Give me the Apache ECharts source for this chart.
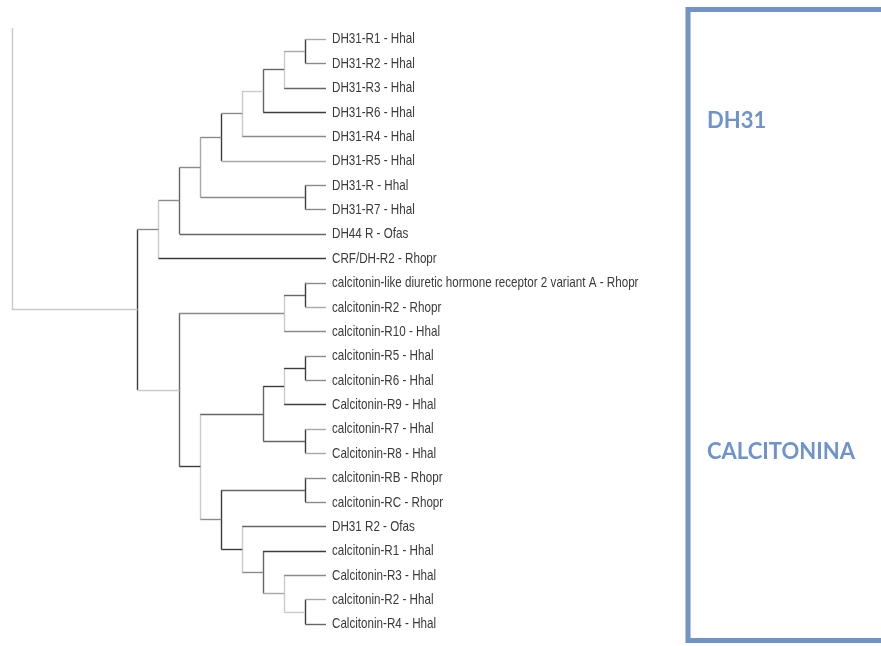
<!DOCTYPE html>
<html>
<head>
<meta charset="utf-8">
<script src="https://cdn.jsdelivr.net/npm/echarts@6/dist/echarts.min.js"></script>
<style>
  html, body { margin: 0; padding: 0; background: #ffffff; }
  #chart { width: 881px; height: 646px; }
</style>
</head>
<body>
<div id="chart"></div>
<script>
// ---------------- DATA ----------------
// Leaf labels, top to bottom
const leafNames = [
  'DH31-R1 - Hhal',
  'DH31-R2 - Hhal',
  'DH31-R3 - Hhal',
  'DH31-R6 - Hhal',
  'DH31-R4 - Hhal',
  'DH31-R5 - Hhal',
  'DH31-R - Hhal',
  'DH31-R7 - Hhal',
  'DH44 R - Ofas',
  'CRF/DH-R2 - Rhopr',
  'calcitonin-like diuretic hormone receptor 2 variant A - Rhopr',
  'calcitonin-R2 - Rhopr',
  'calcitonin-R10 - Hhal',
  'calcitonin-R5 - Hhal',
  'calcitonin-R6 - Hhal',
  'Calcitonin-R9 - Hhal',
  'calcitonin-R7 - Hhal',
  'Calcitonin-R8 - Hhal',
  'calcitonin-RB - Rhopr',
  'calcitonin-RC - Rhopr',
  'DH31 R2 - Ofas',
  'calcitonin-R1 - Hhal',
  'Calcitonin-R3 - Hhal',
  'calcitonin-R2 - Hhal',
  'Calcitonin-R4 - Hhal'
];

// Tree topology: [nodeId, parentId, branchLength]; leaves are "L<index>"
const treeEdges = [
  ['A', 'root', 6],
  ['B', 'A', 1], ['K', 'A', 2],
  ['C', 'B', 1], ['L9', 'B', 8],
  ['D', 'C', 1], ['L8', 'C', 7],
  ['F', 'D', 1], ['E', 'D', 5],
  ['G', 'F', 1], ['L5', 'F', 5],
  ['H', 'G', 1], ['L4', 'G', 4],
  ['I', 'H', 1], ['L3', 'H', 3],
  ['J', 'I', 1], ['L2', 'I', 2],
  ['L0', 'J', 1], ['L1', 'J', 1],
  ['L6', 'E', 1], ['L7', 'E', 1],
  ['Lc', 'K', 5], ['N', 'K', 1],
  ['M', 'Lc', 1], ['L12', 'Lc', 2],
  ['L10', 'M', 1], ['L11', 'M', 1],
  ['O', 'N', 3], ['S', 'N', 1],
  ['P', 'O', 1], ['R', 'O', 2],
  ['Q', 'P', 1], ['L15', 'P', 2],
  ['L13', 'Q', 1], ['L14', 'Q', 1],
  ['L16', 'R', 1], ['L17', 'R', 1],
  ['T', 'S', 4], ['U', 'S', 1],
  ['L18', 'T', 1], ['L19', 'T', 1],
  ['L20', 'U', 4], ['V', 'U', 1],
  ['L21', 'V', 3], ['W', 'V', 1],
  ['L22', 'W', 2], ['X', 'W', 1],
  ['L23', 'X', 1], ['L24', 'X', 1]
];

// Box group labels
const groupLabels = ['DH31', 'CALCITONINA'];

// ---------------- STYLE (branch shading) ----------------
const shade = { 1: '#3c3c3c', 2: '#666666', 3: '#8a8a8a', 4: '#a8a8a8', 5: '#cacaca' };
// horizontal shade per node (branch leading to node)
const hShade = {
  A: 5, B: 3, K: 5, C: 3, L9: 1, D: 3, L8: 2, F: 3, E: 3, G: 3, L5: 4,
  H: 5, L4: 3, I: 2, L3: 1, J: 4, L2: 2, L0: 4, L1: 3, L6: 3, L7: 3,
  Lc: 3, N: 1, M: 2, L12: 3, L10: 3, L11: 4, O: 2, S: 3, P: 1, R: 2,
  Q: 1, L15: 1, L13: 3, L14: 3, L16: 4, L17: 4, T: 2, U: 1, L18: 3, L19: 3,
  L20: 2, V: 3, L21: 1, W: 4, L22: 3, X: 5, L23: 4, L24: 2
};
// vertical shade per internal node
const vShade = {
  root: 5, A: 1, B: 5, C: 2, D: 4, E: 1, F: 1, G: 5, H: 2, I: 5, J: 1,
  K: 2, Lc: 5, M: 1, N: 5, O: 2, P: 5, Q: 1, R: 1, S: 1, T: 1, U: 5,
  V: 2, W: 5, X: 1
};
const ROOT_STEM_TOP_ROW = -0.45;

// ---------------- LAYOUT FROM DATA ----------------
const children = {};
const lenOf = {};
treeEdges.forEach(([id, p, len]) => {
  (children[p] = children[p] || []).push(id);
  lenOf[id] = len;
});
const X = { root: 0 };
const Y = {};
function placeX(id) {
  (children[id] || []).forEach(c => { X[c] = X[id] + lenOf[c]; placeX(c); });
}
placeX('root');
function placeY(id) {
  if (/^L\d+$/.test(id)) { Y[id] = +id.slice(1); return Y[id]; }
  const ys = children[id].map(placeY);
  Y[id] = (Math.min(...ys) + Math.max(...ys)) / 2;
  return Y[id];
}
placeY('root');

const segs = [];
Object.keys(children).forEach(id => {
  const ys = children[id].map(c => Y[c]);
  let y0 = Math.min(...ys), y1 = Math.max(...ys);
  if (id === 'root') { y0 = ROOT_STEM_TOP_ROW; }
  segs.push({ coords: [[X[id], y0], [X[id], y1]], lineStyle: { color: shade[vShade[id]] } });
});
treeEdges.forEach(([id, p]) => {
  segs.push({ coords: [[X[p], Y[id]], [X[id], Y[id]]], lineStyle: { color: shade[hShade[id]] } });
});

const maxX = Math.max(...Object.values(X));
const leafPoints = leafNames.map((n, i) => [X['L' + i], i, i]);

const chart = echarts.init(document.getElementById('chart'), null, { renderer: 'canvas' });
chart.setOption({
  animation: false,
  backgroundColor: '#ffffff',
  grid: { left: 12, top: 39 - 0.5 * 24.375, width: 314, height: 25 * 24.375, containLabel: false },
  xAxis: { type: 'value', min: 0, max: maxX, show: false },
  yAxis: { type: 'value', min: -0.5, max: 24.5, inverse: true, show: false },
  series: [
    {
      type: 'lines',
      coordinateSystem: 'cartesian2d',
      polyline: false,
      clip: false,
      silent: true,
      lineStyle: { width: 1.4, opacity: 1 },
      data: segs
    },
    {
      type: 'custom',
      coordinateSystem: 'cartesian2d',
      silent: true,
      clip: false,
      data: leafPoints,
      renderItem: function (params, api) {
        const p = api.coord([api.value(0), api.value(1)]);
        return {
          type: 'text',
          x: p[0] + 6,
          y: p[1] + 0.5,
          scaleX: 0.82,
          style: {
            text: leafNames[api.value(2)],
            font: '14.2px "Liberation Sans", Arial, sans-serif',
            fill: '#3a3a3a',
            textAlign: 'left',
            textVerticalAlign: 'middle',
            verticalAlign: 'middle'
          }
        };
      }
    }
  ],
  graphic: [
    {
      type: 'rect',
      shape: { x: 688, y: 9.5, width: 300, height: 631 },
      style: { fill: 'none', stroke: '#7193c6', lineWidth: 5 },
      silent: true
    },
    {
      type: 'text',
      left: 707, top: 110,
      style: { text: groupLabels[0], font: 'bold 22px Lato, "Open Sans", sans-serif', fill: '#6f94cb' },
      silent: true
    },
    {
      type: 'text',
      left: 707, top: 441,
      style: { text: groupLabels[1], font: 'bold 22px Lato, "Open Sans", sans-serif', fill: '#6f94cb' },
      silent: true
    }
  ]
});
</script>
</body>
</html>
